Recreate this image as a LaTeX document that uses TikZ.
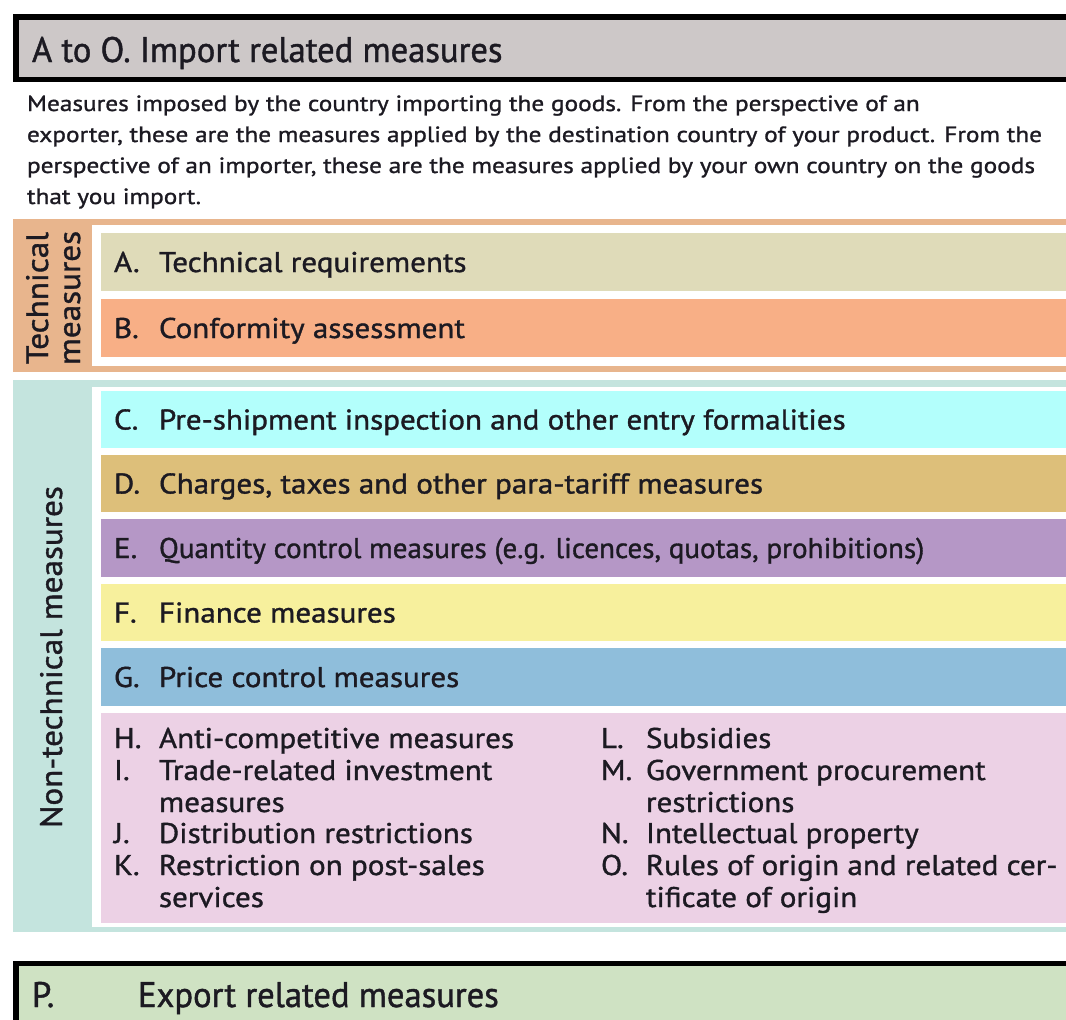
\documentclass[tikz,border=0pt]{standalone}
\usepackage{fontspec}
\setmainfont{PT Sans}
% width-tuned cuts of the same family for the different text blocks
\newfontfamily\headfont{PT Sans}[FakeStretch=0.975, FakeBold=1.2]
\newfontfamily\descfont{PT Sans}[FakeStretch=1.15, FakeBold=1.2]
\newfontfamily\rowfont{PT Sans}[FakeStretch=1.09, FakeBold=1.2]
\newfontfamily\rowfontE{PT Sans}[FakeStretch=1.02, FakeBold=1.2]
\newfontfamily\sidefont{PT Sans}[FakeStretch=1.07, FakeBold=1.2]
\definecolor{ink}{RGB}{28,26,34}
\definecolor{hdrgray}{RGB}{205,200,200}
\definecolor{techband}{RGB}{232,181,141}
\definecolor{nontechband}{RGB}{196,228,222}
\definecolor{fillA}{RGB}{223,219,185}
\definecolor{fillB}{RGB}{248,175,134}
\definecolor{fillC}{RGB}{179,255,252}
\definecolor{fillD}{RGB}{221,191,122}
\definecolor{fillE}{RGB}{181,151,198}
\definecolor{fillF}{RGB}{247,240,157}
\definecolor{fillG}{RGB}{143,190,219}
\definecolor{fillH}{RGB}{236,209,229}
\definecolor{exportgreen}{RGB}{207,226,195}
\begin{document}
\begin{tikzpicture}[x=1pt,y=-1pt,
  every node/.style={inner sep=0pt, outer sep=0pt, text=ink},
  headtext/.style={anchor=base west, font=\headfont\fontsize{35.5}{38}\selectfont},
  desctext/.style={anchor=base west, font=\descfont\fontsize{22}{24}\selectfont},
  rowtext/.style={anchor=base west, font=\rowfont\fontsize{28.5}{30}\selectfont},
  sidetext/.style={anchor=base, rotate=90, font=\sidefont\fontsize{31}{32}\selectfont},
  framebox/.style={draw=black, line width=5.5pt}
]
\useasboundingbox (0,0) rectangle (1066,1020);
\clip (0,0) rectangle (1066,1020);

% ---- header: import related measures
\filldraw[framebox, fill=hdrgray] (15.75,16.75) rectangle (1100,79.25);
\node[headtext] (hdr) at (32,62) {A to O. Import related measures};

% ---- description paragraph
\node[desctext] (d1) at (27,111) {Measures imposed by the country importing the goods. From the perspective of an};
\node[desctext] (d2) at (27,142) {exporter, these are the measures applied by the destination country of your product. From the};
\node[desctext] (d3) at (27,173) {perspective of an importer, these are the measures applied by your own country on the goods};
\node[desctext] (d4) at (27,204) {that you import.};

% ---- technical measures group
\fill[techband] (13,219) rectangle (1100,372);
\fill[white] (92,225) rectangle (1100,366);
\fill[fillA] (101,233) rectangle (1100,291);
\fill[fillB] (101,299) rectangle (1100,357);
\node[sidetext] (tech1) at (48,298) {Technical};
\node[sidetext] (tech2) at (80,298) {measures};
\node[rowtext] (lA) at (114,272) {A.};
\node[rowtext] (tA) at (159,272) {Technical requirements};
\node[rowtext] (lB) at (114,338) {B.};
\node[rowtext] (tB) at (159,338) {Conformity assessment};

% ---- non-technical measures group
\fill[nontechband] (13,380) rectangle (1100,932);
\fill[white] (92,387) rectangle (1100,927);
\fill[fillC] (101,391) rectangle (1100,448);
\fill[fillD] (101,455) rectangle (1100,512);
\fill[fillE] (101,519) rectangle (1100,577);
\fill[fillF] (101,584) rectangle (1100,641);
\fill[fillG] (101,648) rectangle (1100,706);
\fill[fillH] (101,713) rectangle (1100,923);
\node[sidetext] (nontech) at (62,657) {Non-technical measures};

\node[rowtext] (lC) at (114,429.5) {C.};
\node[rowtext] (tC) at (159,429.5) {Pre-shipment inspection and other entry formalities};
\node[rowtext] (lD) at (114,493.5) {D.};
\node[rowtext] (tD) at (159,493.5) {Charges, taxes and other para-tariff measures};
\node[rowtext] (lE) at (114,558) {E.};
\node[rowtext, font=\rowfontE\fontsize{28.5}{30}\selectfont] (tE) at (159,558) {Quantity control measures (e.g. licences, quotas, prohibitions)};
\node[rowtext] (lF) at (114,622.5) {F.};
\node[rowtext] (tF) at (159,622.5) {Finance measures};
\node[rowtext] (lG) at (114,687) {G.};
\node[rowtext] (tG) at (159,687) {Price control measures};

% left column of the remaining chapters
\node[rowtext] (lH) at (114,748) {H.};
\node[rowtext] (tH) at (159,748) {Anti-competitive measures};
\node[rowtext] (lI) at (114,780) {I.};
\node[rowtext] (tI) at (159,780) {Trade-related investment};
\node[rowtext] (tI2) at (159,812) {measures};
\node[rowtext] (lJ) at (114,843) {J.};
\node[rowtext] (tJ) at (159,843) {Distribution restrictions};
\node[rowtext] (lK) at (114,875) {K.};
\node[rowtext] (tK) at (159,875) {Restriction on post-sales};
\node[rowtext] (tK2) at (159,907) {services};

% right column of the remaining chapters
\node[rowtext] (lL) at (601,748) {L.};
\node[rowtext] (tL) at (646,748) {Subsidies};
\node[rowtext] (lM) at (601,780) {M.};
\node[rowtext] (tM) at (646,780) {Government procurement};
\node[rowtext] (tM2) at (646,812) {restrictions};
\node[rowtext] (lN) at (601,843) {N.};
\node[rowtext] (tN) at (646,843) {Intellectual property};
\node[rowtext] (lO) at (601,875) {O.};
\node[rowtext] (tO) at (646,875) {Rules of origin and related cer-};
\node[rowtext] (tO2) at (646,907) {tificate of origin};

% ---- footer: export related measures
\filldraw[framebox, fill=exportgreen] (15.75,963.5) rectangle (1100,1100);
\node[headtext] (lP) at (32,1007) {P.};
\node[headtext] (tP) at (138,1007) {Export related measures};
\end{tikzpicture}
\end{document}
